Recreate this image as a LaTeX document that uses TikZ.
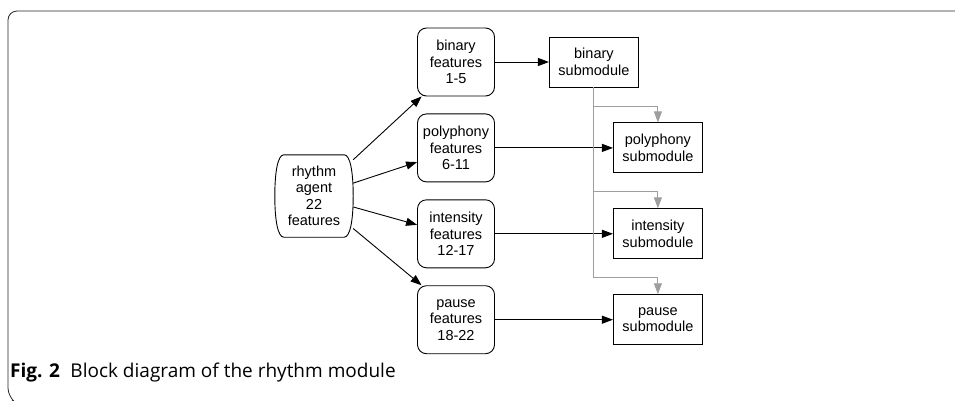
\documentclass[tikz,border=0pt]{standalone}
\usepackage{fontspec}
\setmainfont{Liberation Sans}
\newfontfamily\capfont{Open Sans}
\usetikzlibrary{arrows.meta,positioning}
\tikzset{
    %Define standard arrow tip
    >={Triangle[length=11pt,width=8pt]},
    %Define style for boxes
    featbox/.style={
           rectangle,
           rounded corners=9pt,
           draw=black, line width=0.9pt,
           minimum width=77pt,
           minimum height=68pt,
           inner sep=1pt,
           font=\fontsize{14.5}{16.5}\selectfont,
           align=center},
    subbox/.style={
           rectangle,
           draw=black, line width=0.9pt,
           minimum width=89pt,
           minimum height=50pt,
           inner sep=1pt,
           font=\fontsize{14.5}{16.5}\selectfont,
           align=center},
    agentbox/.style={
           rectangle,
           minimum width=78pt,
           minimum height=82pt,
           inner sep=1pt,
           font=\fontsize{14.5}{16.5}\selectfont,
           align=center},
    agentline/.style={
           draw=black, line width=0.9pt},
    % Define arrow style
    pil/.style={
           ->,
           line width=0.9pt},
    feed/.style={
           ->,
           line width=0.9pt,
           draw=black!38}
}
\begin{document}
\begin{tikzpicture}[x=1pt,y=1pt,node distance=17pt]
\useasboundingbox (0,0) rectangle (955,-400);
\draw[line width=0.8pt,black!85,rounded corners=9pt] (955,-11) -| (8,-397) -- (12,-400);

\node[agentbox](agent) at (314,-196){rhythm\\agent\\22\\features};
\draw[agentline] ([xshift=9pt]agent.north west) -- ([xshift=-9pt]agent.north east)
	.. controls +(6,0) and +(0,24) .. (agent.east)
	.. controls +(0,-24) and +(6,0) .. ([xshift=-9pt]agent.south east)
	-- ([xshift=9pt]agent.south west)
	.. controls +(-6,0) and +(0,-24) .. (agent.west)
	.. controls +(0,24) and +(-6,0) .. cycle;
\node[featbox](binf) at (456,-62){binary\\features\\1-5};
\node[featbox, below=of binf](polyf){polyphony\\features\\6-11};
\node[featbox, below=of polyf](intf){intensity\\features\\12-17};
\node[featbox, below=of intf](pausef){pause\\features\\18-22};
\node[subbox, right=54pt of binf](bins){binary\\submodule};
\node[subbox, right=118pt of polyf](polys){polyphony\\submodule};
\node[subbox, right=118pt of intf](ints){intensity\\submodule};
\node[subbox, right=118pt of pausef](pauses){pause\\submodule};

\path[pil]
	(agent) edge (binf.-135)
	(agent) edge (polyf.200)
	(agent) edge (intf.167)
	(agent) edge (pausef.135)
	(binf) edge (bins)
	(polyf) edge (polys)
	(intf) edge (ints)
	(pausef) edge (pauses);

\draw[feed] (bins.south) |- ([yshift=16pt]polys.north) -- (polys.north);
\draw[feed] (bins.south) |- ([yshift=17pt]ints.north) -- (ints.north);
\draw[feed] (bins.south) |- ([yshift=17pt]pauses.north) -- (pauses.north);

\node[anchor=base west, inner sep=0pt, font=\capfont\fontsize{19}{22}\selectfont](cap) at (10,-377)
	{\textbf{Fig. 2}\hspace{0.55em}Block diagram of the rhythm module};
\end{tikzpicture}
\end{document}
